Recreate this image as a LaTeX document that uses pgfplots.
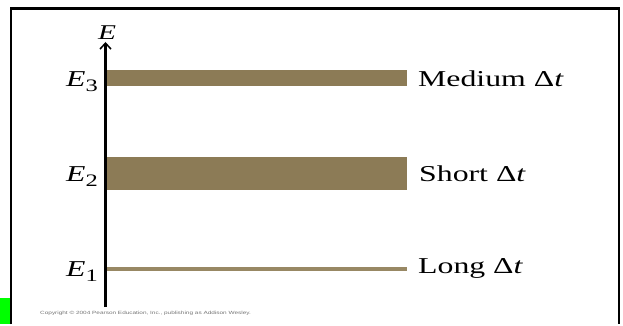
\documentclass[border=0pt]{standalone}
\usepackage{pgfplots}
\pgfplotsset{compat=1.18}
\usepackage{fontspec}
\setmainfont{Liberation Serif}[FakeStretch=1.4]
\newfontfamily\cpfont{Liberation Sans}[FakeStretch=1.4]
\usetikzlibrary{arrows.meta}
\definecolor{bandc}{RGB}{140,123,86}
\definecolor{bandl}{RGB}{152,136,100}
\definecolor{cpgray}{RGB}{115,115,115}
\newcommand{\lab}[1]{\fontsize{22.7}{26}\selectfont\textit{E}\raisebox{-5pt}{\fontsize{17.5}{20}\selectfont #1}}
\newcommand{\rt}[1]{\fontsize{22.7}{26}\selectfont #1 Δ\textit{t}}
\begin{document}
\begin{tikzpicture}
\begin{axis}[
  width=623pt, height=324pt, scale only axis,
  xmin=0, xmax=623, ymin=0, ymax=324,
  y dir=reverse, hide axis, clip=false,
]
\path (axis cs:0,0) rectangle (axis cs:623,324);
% frame
\draw[line width=2.6pt, black] (axis cs:11,324) -- (axis cs:11,8.6) -- (axis cs:619,8.6) -- (axis cs:619,324);
% green mark
\addplot[fill={rgb,255:red,0;green,255;blue,0}, draw=none] coordinates {(0,298) (9.7,298) (9.7,324) (0,324)} -- cycle;
% bands
\addplot[fill=bandc, draw=none] coordinates {(106.5,70.5) (407,70.5) (407,86.5) (106.5,86.5)} -- cycle;
\addplot[fill=bandc, draw=none] coordinates {(106.5,157) (407,157) (407,190) (106.5,190)} -- cycle;
\addplot[fill=bandl, draw=none] coordinates {(106.5,266.8) (407,266.8) (407,270.6) (106.5,270.6)} -- cycle;
% energy axis
\draw[line width=2.1pt, -{Straight Barb[length=6pt,width=11pt,line width=1.5pt]}] (axis cs:105.5,307) -- (axis cs:105.5,42);
\node[anchor=base, inner sep=0pt] at (axis cs:107,39.5) {\fontsize{21}{24}\selectfont\textit{E}};
% level labels
\node[anchor=base east, inner sep=0pt] at (axis cs:98,87) {\lab{3}};
\node[anchor=base east, inner sep=0pt] at (axis cs:98,182) {\lab{2}};
\node[anchor=base east, inner sep=0pt] at (axis cs:98,277) {\lab{1}};
% right labels
\node[anchor=base west, inner sep=0pt] at (axis cs:418,86.7) {\rt{Medium}};
\node[anchor=base west, inner sep=0pt] at (axis cs:419,181.7) {\rt{Short}};
\node[anchor=base west, inner sep=0pt] at (axis cs:418,274) {\rt{Long}};
% copyright
\node[anchor=west, inner sep=0pt, text=cpgray] at (axis cs:40,313) {\cpfont\fontsize{4.6}{5}\selectfont Copyright © 2004 Pearson Education, Inc., publishing as Addison Wesley.};
\end{axis}
\end{tikzpicture}
\end{document}
